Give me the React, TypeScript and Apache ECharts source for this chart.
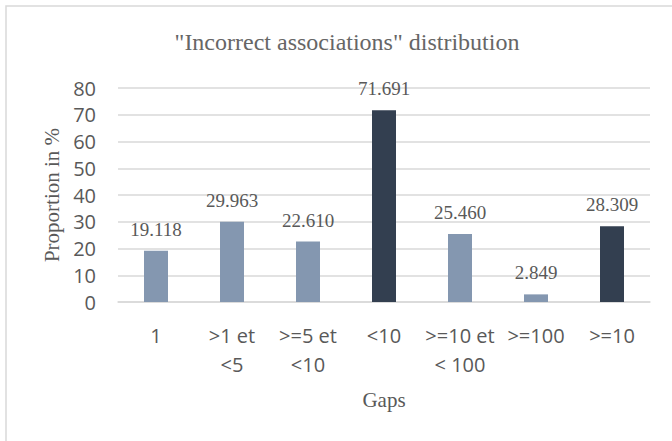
import React, { useEffect, useRef } from "react";
import * as echarts from "echarts";

const categories = ["1", ">1 et\n<5", ">=5 et\n<10", "<10", ">=10 et\n< 100", ">=100", ">=10"];
const proportions = [19.118, 29.963, 22.61, 71.691, 25.46, 2.849, 28.309];
const highlighted = ["<10", ">=10"];
const yTicks = { min: 0, max: 80, interval: 10 };
const titleText = '"Incorrect associations" distribution';
const yName = "Proportion in %";
const xName = "Gaps";

const LIGHT = "#8497B0";
const DARK = "#333F50";
const TEXT = "#595959";
const SERIF = '"Liberation Serif", "Times New Roman", serif';
const SANS = '"Open Sans", "Liberation Sans", sans-serif';

export default function App() {
  const ref = useRef<HTMLDivElement>(null);
  useEffect(() => {
    if (!ref.current) return;
    const chart = echarts.init(ref.current, null, { renderer: "svg" });
    chart.setOption({
      animation: false,
      backgroundColor: "#ffffff",
      title: {
        text: titleText,
        left: 342,
        top: 25,
        textAlign: "center",
        textStyle: { fontFamily: SERIF, fontSize: 24, fontWeight: "normal", color: "#666666" },
      },
      graphic: [
        {
          type: "rect",
          shape: { x: 6, y: 6, width: 720, height: 520 },
          style: { fill: "none", stroke: "#d9d9d9", lineWidth: 1.5 },
          silent: true,
        },
      ],
      grid: { left: 118, right: 22, top: 88, bottom: 139, containLabel: false },
      xAxis: {
        type: "category",
        data: categories,
        name: xName,
        nameLocation: "middle",
        nameGap: 87,
        nameTextStyle: { fontFamily: SERIF, fontSize: 21, color: TEXT, lineHeight: 21 },
        axisLine: { show: true, lineStyle: { color: "#d9d9d9", width: 1.5 } },
        axisTick: { show: false },
        axisLabel: {
          interval: 0,
          margin: 19,
          fontFamily: SANS,
          fontSize: 20,
          lineHeight: 29,
          color: TEXT,
        },
      },
      yAxis: {
        type: "value",
        min: yTicks.min,
        max: yTicks.max,
        interval: yTicks.interval,
        name: yName,
        nameLocation: "middle",
        nameGap: 56,
        nameTextStyle: { fontFamily: SERIF, fontSize: 21, color: TEXT },
        axisLine: { show: false },
        axisTick: { show: false },
        axisLabel: { margin: 22, fontFamily: SANS, fontSize: 20, color: TEXT },
        splitLine: { lineStyle: { color: "#d9d9d9", width: 1.5 } },
      },
      series: [
        {
          type: "bar",
          barWidth: 24,
          data: proportions.map((v, i) => ({
            value: v,
            itemStyle: { color: highlighted.includes(categories[i]) ? DARK : LIGHT },
          })),
          label: {
            show: true,
            position: "top",
            distance: 12,
            fontFamily: SERIF,
            fontSize: 19,
            color: TEXT,
            formatter: (p: any) => Number(p.value).toFixed(3),
          },
        },
      ],
    });
    return () => chart.dispose();
  }, []);
  return (
    <div
      ref={ref}
      style={{ position: "fixed", left: 0, top: 0, width: 672, height: 441 }}
    />
  );
}
